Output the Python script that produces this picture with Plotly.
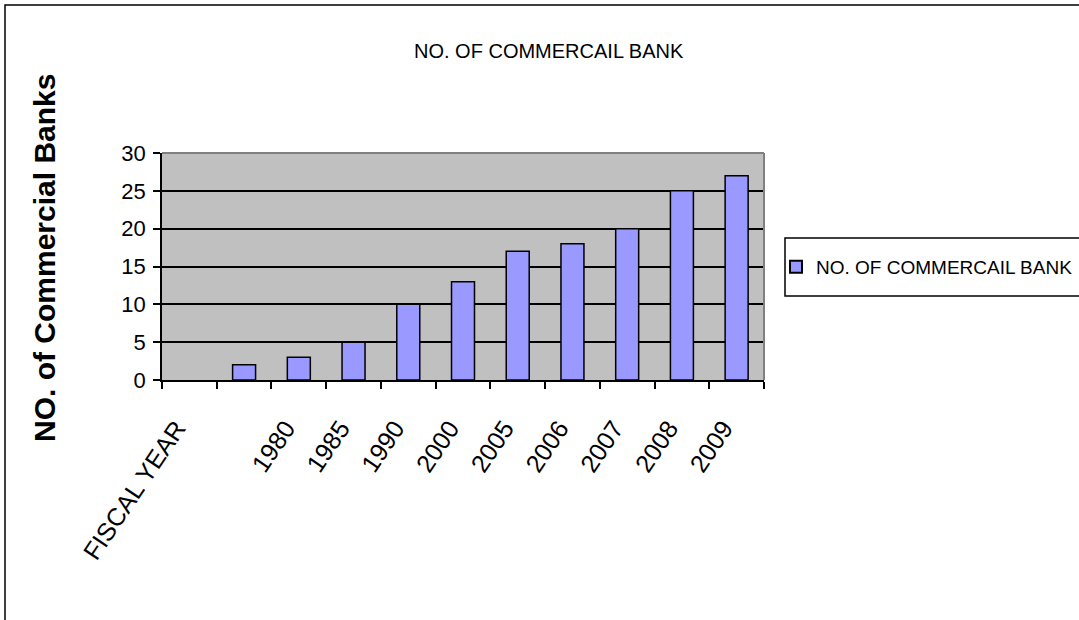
import plotly.graph_objects as go

# Category slots along the x axis (the second slot carries no label)
categories = ["FISCAL YEAR", " ", "1980", "1985", "1990", "2000", "2005", "2006", "2007", "2008", "2009"]
bank_counts = [None, 2, 3, 5, 10, 13, 17, 18, 20, 25, 27]
series_name = "NO. OF COMMERCAIL BANK"
y_ticks = [0, 5, 10, 15, 20, 25, 30]

FONT = "Liberation Sans, Arial, sans-serif"

W, H = 1079, 620
L, R, T, B = 162, 315, 153, 240
pw = W - L - R
ph = H - T - B


def px_x(x):
    return (x - L) / pw


def px_y(y):
    return (H - B - y) / ph


fig = go.Figure()
fig.add_trace(go.Bar(
    x=categories,
    y=bank_counts,
    name=series_name,
    marker=dict(color="#9999FF", line=dict(color="black", width=1.5)),
    showlegend=True,
))

fig.update_layout(
    width=W, height=H,
    margin=dict(l=L, r=R, t=T, b=B, autoexpand=False),
    paper_bgcolor="white",
    plot_bgcolor="#C0C0C0",
    bargap=0.58,
    font=dict(family=FONT, color="black"),
    xaxis=dict(
        type="category",
        tickson="boundaries",
        tickangle=-56,
        ticks="outside", ticklen=7, tickwidth=1.5, tickcolor="black",
        showline=True, linecolor="black", linewidth=1.5,
        showgrid=False,
        tickfont=dict(family=FONT, size=25, color="black"),
        ticklabelstandoff=22,
        ticklabelshift=-13,
        range=[-0.5, len(categories) - 0.5],
        fixedrange=True,
    ),
    yaxis=dict(
        range=[0, 30],
        tickvals=y_ticks,
        ticks="outside", ticklen=7, tickwidth=1.5, tickcolor="black",
        showline=True, linecolor="black", linewidth=1.5,
        showgrid=True, gridcolor="black", gridwidth=1.5,
        zeroline=False,
        tickfont=dict(family=FONT, size=22, color="black"),
        ticklabelstandoff=3,
    ),
    legend=dict(
        x=px_x(776), y=px_y(267), xanchor="left", yanchor="middle",
        bgcolor="rgba(0,0,0,0)", borderwidth=0,
        font=dict(family=FONT, size=19, color="black"),
        itemsizing="constant",
        itemwidth=30,
    ),
    showlegend=True,
)

# Chart title
fig.add_annotation(
    text="NO. OF COMMERCAIL BANK",
    x=px_x(549), y=px_y(51), xref="paper", yref="paper",
    xanchor="center", yanchor="middle",
    showarrow=False, font=dict(family=FONT, size=20, color="black"),
)

# Vertical axis title
fig.add_annotation(
    text="<b>NO. of Commercial Banks</b>",
    x=px_x(44), y=px_y(258), xref="paper", yref="paper",
    xanchor="center", yanchor="middle",
    textangle=-90, showarrow=False,
    font=dict(family=FONT, size=30, color="black"),
)

# Top and right edges of the plot area in grey
fig.add_shape(type="line", xref="paper", yref="paper", x0=0, x1=1, y0=1, y1=1,
              line=dict(color="#808080", width=2))
fig.add_shape(type="line", xref="paper", yref="paper", x0=1, x1=1, y0=0, y1=1,
              line=dict(color="#808080", width=2))

# Legend frame
fig.add_shape(type="rect", xref="paper", yref="paper",
              x0=px_x(785), x1=px_x(1090), y0=px_y(296), y1=px_y(238),
              line=dict(color="black", width=1.5), fillcolor="white", layer="below")

# Outer chart frame
fig.add_shape(type="rect", xref="paper", yref="paper",
              x0=px_x(5), x1=px_x(1090), y0=px_y(630), y1=px_y(5),
              line=dict(color="black", width=1.5), fillcolor="rgba(0,0,0,0)")

fig.write_html("out.html")
